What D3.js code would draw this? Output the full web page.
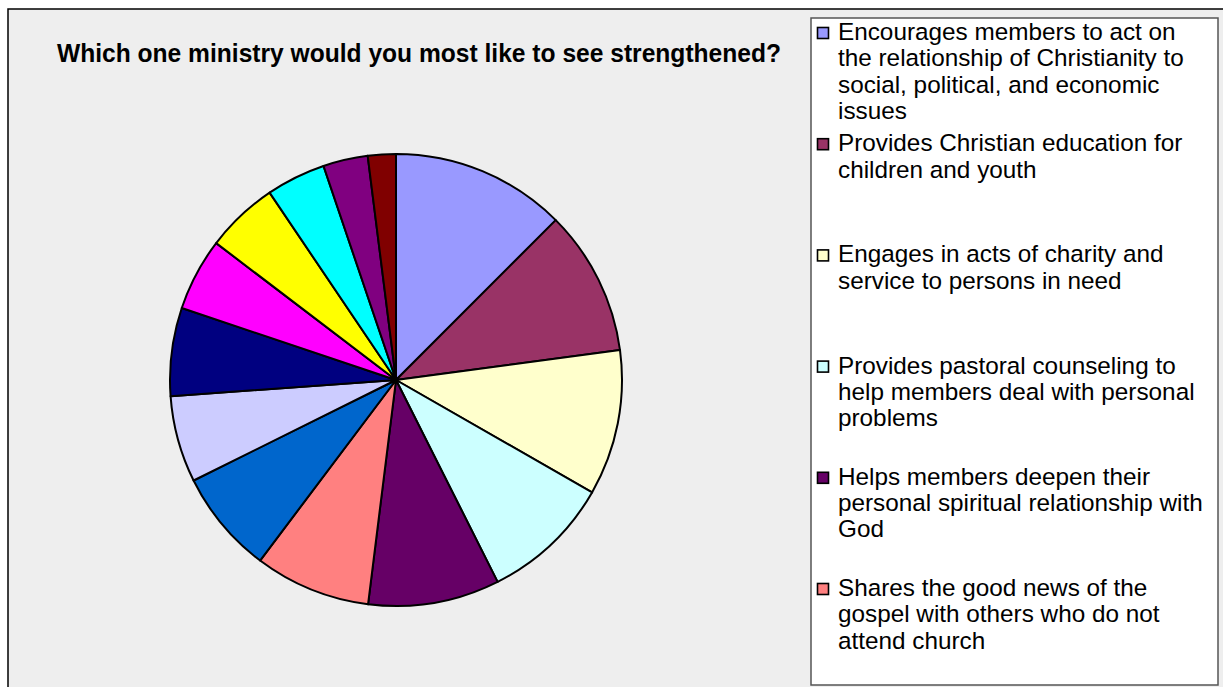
<!DOCTYPE html>
<html>
<head>
<meta charset="utf-8">
<script src="https://cdn.jsdelivr.net/npm/d3@7/dist/d3.min.js"></script>
<style>
  html, body { margin: 0; padding: 0; background: #ffffff; }
  svg { display: block; }
</style>
</head>
<body>
<svg id="chart" width="1223" height="687"></svg>
<script>
const title = "Which one ministry would you most like to see strengthened?";

const categories = [
  "Encourages members to act on the relationship of Christianity to social, political, and economic issues",
  "Provides Christian education for children and youth",
  "Engages in acts of charity and service to persons in need",
  "Provides pastoral counseling to help members deal with personal problems",
  "Helps members deepen their personal spiritual relationship with God",
  "Shares the good news of the gospel with others who do not attend church",
  "Category 7",
  "Category 8",
  "Category 9",
  "Category 10",
  "Category 11",
  "Category 12",
  "Category 13",
  "Category 14"
];

const legendLines = [
  ["Encourages members to act on", "the relationship of Christianity to", "social, political, and economic", "issues"],
  ["Provides Christian education for", "children and youth"],
  ["Engages in acts of charity and", "service to persons in need"],
  ["Provides pastoral counseling to", "help members deal with personal", "problems"],
  ["Helps members deepen their", "personal spiritual relationship with", "God"],
  ["Shares the good news of the", "gospel with others who do not", "attend church"],
  ["Category 7"], ["Category 8"], ["Category 9"], ["Category 10"],
  ["Category 11"], ["Category 12"], ["Category 13"], ["Category 14"]
];

const values = [12.5, 10.4, 10.4, 9.3, 9.4, 8.3, 7.4, 6.2, 6.3, 5.2, 5.2, 4.25, 3.2, 2.0];

const colors = ["#9999FF", "#993366", "#FFFFCC", "#CCFFFF", "#660066", "#FF8080",
                "#0066CC", "#CCCCFF", "#000080", "#FF00FF", "#FFFF00", "#00FFFF",
                "#800080", "#800000"];

const svg = d3.select("#chart");

// chart area background
svg.append("rect")
  .attr("x", 8).attr("y", 9)
  .attr("width", 1240).attr("height", 700)
  .attr("fill", "#EEEEEE")
  .attr("stroke", "#000").attr("stroke-width", 1.5);

// title
svg.append("text")
  .attr("x", 57).attr("y", 62)
  .attr("textLength", 724).attr("lengthAdjust", "spacingAndGlyphs")
  .attr("font-family", "Liberation Sans, Arial, sans-serif")
  .attr("font-weight", "bold").attr("font-size", 25)
  .attr("fill", "#000")
  .text(title);

// pie
const cx = 396, cy = 380, r = 226;
const color = d3.scaleOrdinal().domain(categories).range(colors);
const pie = d3.pie().sort(null).value(d => d.value);
const arc = d3.arc().innerRadius(0).outerRadius(r);
const data = categories.map((c, i) => ({ cat: c, value: values[i] }));

svg.append("g")
  .attr("transform", `translate(${cx},${cy})`)
  .selectAll("path")
  .data(pie(data))
  .join("path")
  .attr("d", arc)
  .attr("fill", d => color(d.data.cat))
  .attr("stroke", "#000")
  .attr("stroke-width", 2)
  .attr("stroke-linejoin", "round");

// legend
const lx = 811, ly = 18, lw = 407, lh = 667;
svg.append("defs").append("clipPath").attr("id", "legclip")
  .append("rect").attr("x", lx).attr("y", ly).attr("width", lw).attr("height", lh);

svg.append("rect")
  .attr("x", lx).attr("y", ly).attr("width", lw).attr("height", lh)
  .attr("fill", "#ffffff").attr("stroke", "#555").attr("stroke-width", 1.5);

const leg = svg.append("g").attr("clip-path", "url(#legclip)");
const slot = 111.2, firstBase = 40, lineH = 26.3;

categories.forEach((c, i) => {
  const base = firstBase + i * slot;
  const nLines = legendLines[i].length;
  if (base + (nLines - 1) * lineH + 6 > ly + lh) return; // entry does not fit in the legend box
  leg.append("rect")
    .attr("x", 817.5).attr("y", base - 12.5)
    .attr("width", 11).attr("height", 11)
    .attr("fill", color(c)).attr("stroke", "#000").attr("stroke-width", 1.6);
  const t = leg.append("text")
    .attr("font-family", "Liberation Sans, Arial, sans-serif")
    .attr("font-size", 24.3)
    .attr("fill", "#000");
  legendLines[i].forEach((ln, j) => {
    t.append("tspan").attr("x", 838).attr("y", base + j * lineH).text(ln);
  });
});
</script>
</body>
</html>
